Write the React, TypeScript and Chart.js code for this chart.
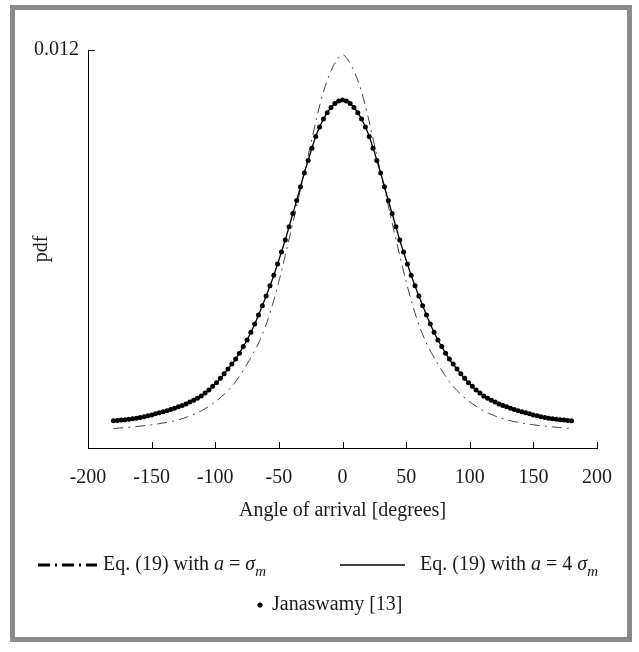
import React, { useEffect, useRef } from "react";
import { Chart, registerables } from "chart.js";

Chart.register(...registerables);

// ---------- data ----------
const ANGLES_LINE = [
  -180, -175, -170, -165, -160, -155, -150, -145, -140, -135, -130, -125, -120, -115, -110, -105, -100, -95, -90,
  -85, -80, -75, -70, -65, -60, -55, -50, -45, -40, -35, -30, -25, -20, -15, -10, -5, 0, 5, 10, 15, 20, 25, 30,
  35, 40, 45, 50, 55, 60, 65, 70, 75, 80, 85, 90, 95, 100, 105, 110, 115, 120, 125, 130, 135, 140, 145, 150, 155,
  160, 165, 170, 175, 180,
];

// Eq. (19) with a = sigma_m (dash-dot)
const EQ19_A_SIGMA = [
  0.000588, 0.000602, 0.000618, 0.000636, 0.000655, 0.000676, 0.0007, 0.000728, 0.00076, 0.000795, 0.00084,
  0.000895, 0.000965, 0.001045, 0.00114, 0.00126, 0.00139, 0.00155, 0.00173, 0.00195, 0.00222, 0.00253, 0.00286,
  0.00324, 0.00372, 0.00432, 0.00502, 0.0058, 0.00662, 0.00747, 0.0083, 0.00915, 0.01, 0.01074, 0.01128, 0.01166,
  0.01186, 0.01166, 0.01128, 0.01074, 0.01, 0.00915, 0.0083, 0.00747, 0.00662, 0.0058, 0.00502, 0.00432, 0.00372,
  0.00324, 0.00286, 0.00253, 0.00222, 0.00195, 0.00173, 0.00155, 0.00139, 0.00126, 0.00114, 0.001045, 0.000965,
  0.000895, 0.00084, 0.000795, 0.00076, 0.000728, 0.0007, 0.000676, 0.000655, 0.000636, 0.000618, 0.000602,
  0.000588,
];

// Eq. (19) with a = 4 sigma_m (solid)
const EQ19_A_4SIGMA = [
  0.000823, 0.000838, 0.000856, 0.00088, 0.000911, 0.00095, 0.000995, 0.001046, 0.0011, 0.001161, 0.001221,
  0.001296, 0.001387, 0.001477, 0.001598, 0.001749, 0.00193, 0.002141, 0.002382, 0.002623, 0.002925, 0.003256,
  0.003648, 0.004101, 0.004583, 0.005095, 0.005668, 0.006271, 0.006935, 0.007598, 0.008291, 0.008925, 0.009497,
  0.00992, 0.010221, 0.010417, 0.010492, 0.010417, 0.010221, 0.00992, 0.009497, 0.008925, 0.008291, 0.007598,
  0.006935, 0.006271, 0.005668, 0.005095, 0.004583, 0.004101, 0.003648, 0.003256, 0.002925, 0.002623, 0.002382,
  0.002141, 0.00193, 0.001749, 0.001598, 0.001477, 0.001387, 0.001296, 0.001221, 0.001161, 0.0011, 0.001046,
  0.000995, 0.00095, 0.000911, 0.00088, 0.000856, 0.000838, 0.000823,
];

const ANGLES_JANASWAMY = [
  -180, -177, -174, -171, -168, -165, -162, -159, -156, -153, -150, -147, -144, -141, -138, -135, -132, -129, -126,
  -123, -120, -117, -114, -111, -108, -105, -102, -99, -96, -93, -90, -87, -84, -81, -78, -75, -72, -69, -66, -63,
  -60, -57, -54, -51, -48, -45, -42, -39, -36, -33, -30, -27, -24, -21, -18, -15, -12, -9, -6, -3, 0, 3, 6, 9, 12,
  15, 18, 21, 24, 27, 30, 33, 36, 39, 42, 45, 48, 51, 54, 57, 60, 63, 66, 69, 72, 75, 78, 81, 84, 87, 90, 93, 96,
  99, 102, 105, 108, 111, 114, 117, 120, 123, 126, 129, 132, 135, 138, 141, 144, 147, 150, 153, 156, 159, 162, 165,
  168, 171, 174, 177, 180,
];

const JANASWAMY = [
  0.000823, 0.000832, 0.000842, 0.000852, 0.000865, 0.00088, 0.0009, 0.00092, 0.00094, 0.00097, 0.000995, 0.00103,
  0.00106, 0.00109, 0.00112, 0.00116, 0.0012, 0.00124, 0.00128, 0.00133, 0.00139, 0.00144, 0.0015, 0.00157,
  0.00166, 0.00175, 0.00186, 0.00197, 0.0021, 0.00224, 0.00238, 0.00253, 0.00268, 0.00286, 0.00306, 0.00326,
  0.00349, 0.00374, 0.00401, 0.00429, 0.00458, 0.00489, 0.00521, 0.00555, 0.00591, 0.00627, 0.00667, 0.00707,
  0.00746, 0.00788, 0.00829, 0.00867, 0.00904, 0.00939, 0.00968, 0.00992, 0.01011, 0.01027, 0.01039, 0.01046,
  0.01049,
  0.01046, 0.01039, 0.01027, 0.01011, 0.00992, 0.00968, 0.00939, 0.00904, 0.00867, 0.00829, 0.00788, 0.00746,
  0.00707, 0.00667, 0.00627, 0.00591, 0.00555, 0.00521, 0.00489, 0.00458, 0.00429, 0.00401, 0.00374, 0.00349,
  0.00326, 0.00306, 0.00286, 0.00268, 0.00253, 0.00238, 0.00224, 0.0021, 0.00197, 0.00186, 0.00175, 0.00166,
  0.00157, 0.0015, 0.00144, 0.00139, 0.00133, 0.00128, 0.00124, 0.0012, 0.00116, 0.00112, 0.00109, 0.00106,
  0.00103, 0.000995, 0.00097, 0.00094, 0.00092, 0.0009, 0.00088, 0.000865, 0.000852, 0.000842, 0.000832, 0.000823,
];

const X_TICKS = [-200, -150, -100, -50, 0, 50, 100, 150, 200];
const Y_TICKS = [0.012];
const X_MIN = -200;
const X_MAX = 200;
const Y_MIN = 0;
const Y_MAX = 0.012;

const X_TITLE = "Angle of arrival [degrees]";
const Y_TITLE = "pdf";
const LEGEND_EQ = "Eq. (19) with ";
const LEGEND_JANASWAMY = "Janaswamy [13]";

// ---------- style ----------
const W = 639;
const H = 652;
const FONT_FAMILY = "'Liberation Serif', 'Times New Roman', serif";
const FS = 20;
const TEXT_COLOR = "#1a1a1a";

const axisTicksPlugin = {
  id: "inwardTicks",
  afterDraw(chart: any) {
    const { ctx, chartArea, scales } = chart;
    const xs = scales.x;
    const ys = scales.y;
    ctx.save();
    ctx.strokeStyle = "#000";
    ctx.lineWidth = 1;
    ctx.beginPath();
    X_TICKS.forEach((v) => {
      if (v === X_MIN) return;
      const px = Math.round(xs.getPixelForValue(v)) + 0.5;
      ctx.moveTo(px, chartArea.bottom);
      ctx.lineTo(px, chartArea.bottom - 6);
    });
    Y_TICKS.forEach((v) => {
      const py = Math.round(ys.getPixelForValue(v)) + 0.5;
      ctx.moveTo(chartArea.left, py);
      ctx.lineTo(chartArea.left + 7, py);
    });
    ctx.stroke();
    ctx.restore();
  },
};

function drawRich(ctx: any, x: number, y: number, parts: { t: string; italic?: boolean; sub?: boolean }[]) {
  let cx = x;
  parts.forEach((p) => {
    const size = p.sub ? 15 : FS;
    ctx.font = `${p.italic ? "italic " : ""}${size}px ${FONT_FAMILY}`;
    ctx.fillText(p.t, cx, p.sub ? y + 7 : y);
    cx += ctx.measureText(p.t).width;
  });
  return cx;
}

const legendPlugin = {
  id: "customLegend",
  afterDraw(chart: any) {
    const ctx = chart.ctx;
    const row1 = 565;
    const row2 = 605;
    ctx.save();
    ctx.fillStyle = TEXT_COLOR;
    ctx.textBaseline = "middle";
    ctx.textAlign = "left";

    // dash-dot sample
    ctx.strokeStyle = "#000";
    ctx.lineWidth = 3;
    ctx.setLineDash([12, 5, 2, 5]);
    ctx.beginPath();
    ctx.moveTo(38, row1);
    ctx.lineTo(97, row1);
    ctx.stroke();
    ctx.setLineDash([]);
    drawRich(ctx, 103, row1, [
      { t: LEGEND_EQ },
      { t: "a", italic: true },
      { t: " = " },
      { t: "σ", italic: true },
      { t: "m", italic: true, sub: true },
    ]);

    // solid sample
    ctx.lineWidth = 1.5;
    ctx.beginPath();
    ctx.moveTo(340, row1);
    ctx.lineTo(405, row1);
    ctx.stroke();
    drawRich(ctx, 420, row1, [
      { t: LEGEND_EQ },
      { t: "a", italic: true },
      { t: " = 4 " },
      { t: "σ", italic: true },
      { t: "m", italic: true, sub: true },
    ]);

    // Janaswamy bullet
    ctx.beginPath();
    ctx.arc(260, row2, 2.6, 0, Math.PI * 2);
    ctx.fillStyle = "#000";
    ctx.fill();
    ctx.fillStyle = TEXT_COLOR;
    ctx.font = `${FS}px ${FONT_FAMILY}`;
    ctx.fillText(LEGEND_JANASWAMY, 272, row2);
    ctx.restore();
  },
};

function PdfChart() {
  const ref = useRef<HTMLCanvasElement | null>(null);
  useEffect(() => {
    if (!ref.current) return;
    const font = { family: FONT_FAMILY, size: FS };
    const chart = new Chart(ref.current, {
      type: "line",
      data: {
        datasets: [
          {
            label: LEGEND_JANASWAMY,
            data: ANGLES_JANASWAMY.map((a, i) => ({ x: a, y: JANASWAMY[i] })),
            showLine: false,
            pointRadius: 2.5,
            pointBackgroundColor: "#000",
            pointBorderWidth: 0,
            borderColor: "#000",
          },
          {
            label: "a = 4 sigma_m",
            data: ANGLES_LINE.map((a, i) => ({ x: a, y: EQ19_A_4SIGMA[i] })),
            borderColor: "#000",
            borderWidth: 1.3,
            pointRadius: 0,
            cubicInterpolationMode: "monotone",
          },
          {
            label: "a = sigma_m",
            data: ANGLES_LINE.map((a, i) => ({ x: a, y: EQ19_A_SIGMA[i] })),
            borderColor: "#444",
            borderWidth: 1,
            borderDash: [10, 5, 2, 5],
            pointRadius: 0,
            cubicInterpolationMode: "monotone",
          },
        ],
      } as any,
      options: {
        animation: false,
        responsive: false,
        maintainAspectRatio: false,
        layout: { padding: { left: 0, top: 50, right: 42, bottom: 124 } },
        plugins: { legend: { display: false }, tooltip: { enabled: false } },
        scales: {
          x: {
            type: "linear",
            min: X_MIN,
            max: X_MAX,
            afterBuildTicks: (s: any) => {
              s.ticks = X_TICKS.map((v) => ({ value: v }));
            },
            afterFit: (s: any) => {
              s.height = 80;
            },
            grid: { display: false, drawTicks: false },
            border: { display: true, color: "#000", width: 1 },
            ticks: { font, color: TEXT_COLOR, padding: 18, maxRotation: 0, autoSkip: false, callback: (v: any) => String(v) },
            title: { display: true, text: X_TITLE, font, color: TEXT_COLOR, padding: { top: 0, bottom: 5 } },
          },
          y: {
            type: "linear",
            min: Y_MIN,
            max: Y_MAX,
            afterBuildTicks: (s: any) => {
              s.ticks = Y_TICKS.map((v) => ({ value: v }));
            },
            afterFit: (s: any) => {
              s.width = 88;
            },
            grid: { display: false, drawTicks: false },
            border: { display: true, color: "#000", width: 1 },
            ticks: { font, color: TEXT_COLOR, padding: 9, autoSkip: false, callback: (v: any) => String(v) },
            title: { display: true, text: Y_TITLE, font, color: TEXT_COLOR, padding: { top: 30, bottom: 0 } },
          },
        },
      } as any,
      plugins: [axisTicksPlugin, legendPlugin],
    });
    return () => chart.destroy();
  }, []);
  return <canvas ref={ref} width={W} height={H} style={{ position: "absolute", left: 0, top: 0, width: W, height: H }} />;
}

export default function App() {
  return (
    <div style={{ position: "fixed", left: 0, top: 0, width: W, height: H, background: "#fff", overflow: "hidden" }}>
      <div
        style={{
          position: "absolute",
          left: 10,
          top: 5,
          width: 622,
          height: 637,
          boxSizing: "border-box",
          border: "5px solid #8a8a8a",
          background: "#fff",
        }}
      />
      <PdfChart />
    </div>
  );
}
